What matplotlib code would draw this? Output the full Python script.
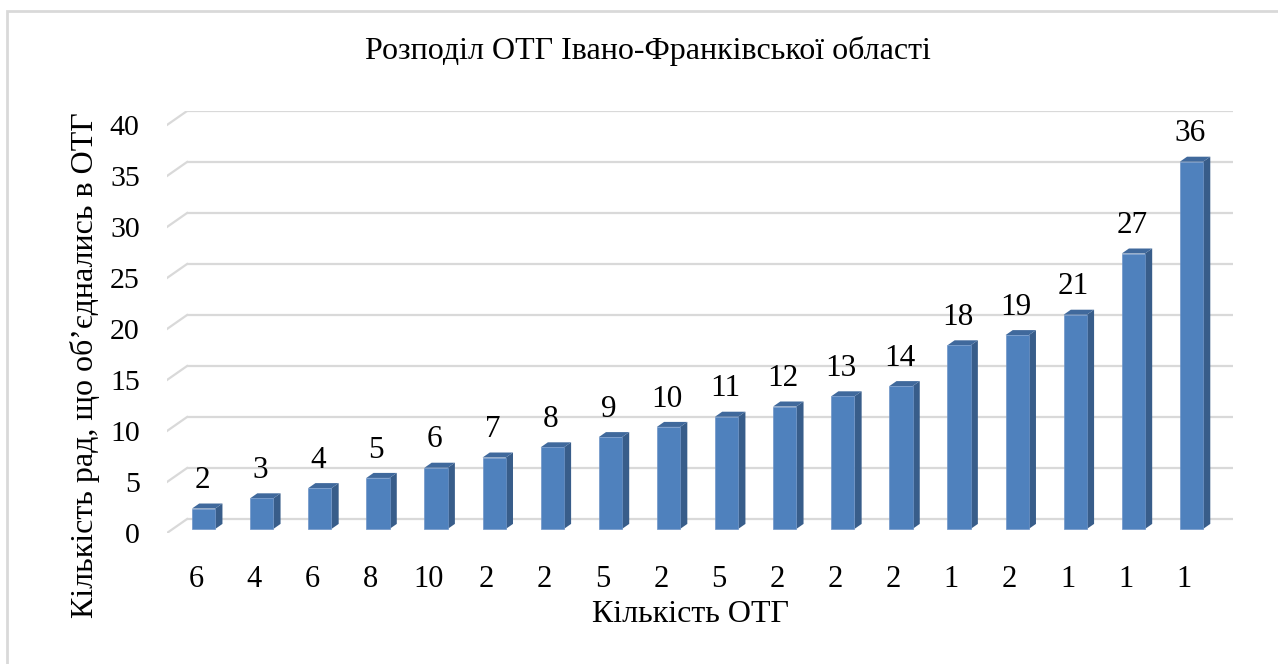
import matplotlib.pyplot as plt
from matplotlib.patches import Polygon, Rectangle

# data
councils = [2, 3, 4, 5, 6, 7, 8, 9, 10, 11, 12, 13, 14, 18, 19, 21, 27, 36]
otg_count = ["6", "4", "6", "8", "10", "2", "2", "5", "2", "5", "2", "2", "2", "1", "2", "1", "1", "1"]
y_ticks = [0, 5, 10, 15, 20, 25, 30, 35, 40]

TITLE = "Розподіл ОТГ Івано-Франківської області"
XLABEL = "Кількість ОТГ"
YLABEL = "Кількість рад, що об’єднались в ОТГ"

W, H = 1278, 664
# oblique depth offset (full depth of floor), in data units
DX, DY = 0.345, 1.37
BAR_W = 0.40
Z0, Z1 = 0.29, 0.65      # bar front / back depth fraction
SHIFT = 0.03             # bar centre shift from category centre

FRONT = "#4f81bd"
SIDE = "#385d8a"
TOP = "#40699c"
GRID = "#d9d9d9"

plt.rcParams['font.family'] = ['Liberation Serif', 'DejaVu Serif']

fig = plt.figure(figsize=(W / 100, H / 100), dpi=100)
ax = fig.add_axes([167 / W, (H - 533) / H, 1066 / W, 422 / H])
n = len(councils)
ax.set_xlim(-0.5, n - 0.5 + DX)
ax.set_ylim(0, y_ticks[-1] + DY)
ax.axis("off")

# back wall grid + left side diagonals
for v in y_ticks:
    ax.plot([-0.5 + DX, n - 0.5 + DX], [v + DY, v + DY], color=GRID, lw=1.6,
            solid_capstyle="butt", zorder=1)
    ax.plot([-0.5, -0.5 + DX], [v, v + DY], color=GRID, lw=1.6, zorder=1)
    ax.annotate(str(v), (-0.5 - 0.47, v), xytext=(0, -2.5), textcoords="offset points",
                ha="right", va="center", fontsize=21.5, annotation_clip=False)


def pt(x, y, z):
    return (x + z * DX, y + z * DY)


for i, v in enumerate(councils):
    x0 = i + SHIFT - BAR_W / 2
    x1 = i + SHIFT + BAR_W / 2
    front = [pt(x0, 0, Z0), pt(x1, 0, Z0), pt(x1, v, Z0), pt(x0, v, Z0)]
    side = [pt(x1, 0, Z0), pt(x1, 0, Z1), pt(x1, v, Z1), pt(x1, v, Z0)]
    top = [pt(x0, v, Z0), pt(x1, v, Z0), pt(x1, v, Z1), pt(x0, v, Z1)]
    ax.add_patch(Polygon(side, closed=True, fc=SIDE, ec="none", zorder=3))
    ax.add_patch(Polygon(top, closed=True, fc=TOP, ec="none", zorder=3))
    ax.add_patch(Polygon(front, closed=True, fc=FRONT, ec="#6f95c8", lw=0.5, zorder=4))
    lx, ly = pt(i + SHIFT, v, Z1)
    ax.annotate(str(v), (lx - 0.15, ly), xytext=(0, 6), textcoords="offset points",
                ha="center", va="bottom", fontsize=22.5, annotation_clip=False)
    ax.annotate(otg_count[i], (i, 0), xytext=(0, -33.5), textcoords="offset points",
                ha="center", va="center", fontsize=22, annotation_clip=False)

fig.text(690 / W, 1 - 614 / H, XLABEL, ha="center", va="center", fontsize=23)
fig.text(85 / W, 1 - 365 / H, YLABEL, ha="center", va="center", rotation=90, fontsize=23)
fig.text(648 / W, 1 - 51 / H, TITLE, ha="center", va="center", fontsize=23)

# light frame of the chart area (right and bottom edges fall outside)
fig.patches.append(Rectangle((7 / W, -0.1), 1.2, 1 - 11 / H + 0.1, transform=fig.transFigure,
                             fill=False, ec=GRID, lw=2))

fig.savefig("out.png", dpi=100)
